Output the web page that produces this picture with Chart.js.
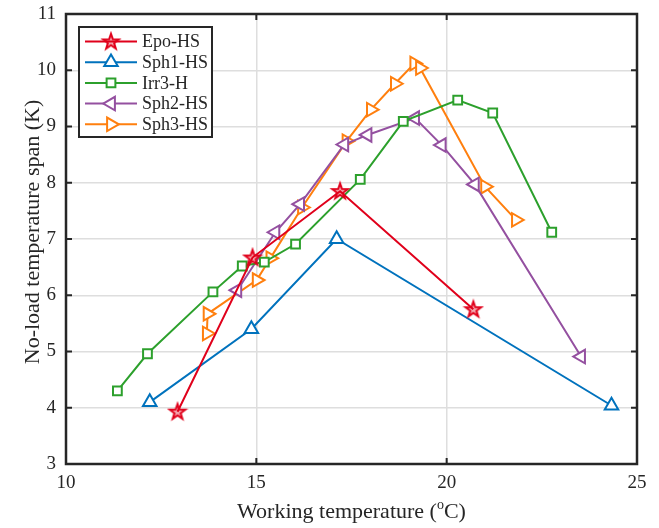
<!DOCTYPE html>
<html>
<head>
<meta charset="utf-8">
<script src="https://cdn.jsdelivr.net/npm/chart.js@4.4.1/dist/chart.umd.min.js"></script>
<style>
  html, body { margin: 0; padding: 0; background: #fff; }
  #wrap { width: 659px; height: 528px; }
</style>
</head>
<body>
<div id="wrap"><canvas id="spanChart" width="659" height="528"></canvas></div>
<script>
// values
const seriesNames = ['Epo-HS', 'Sph1-HS', 'Irr3-H', 'Sph2-HS', 'Sph3-HS'];

const epoX = [12.93, 14.9, 17.2, 20.7];
const epoY = [3.93, 6.67, 7.85, 5.75];

const sph1X = [12.2, 14.87, 17.11, 24.33];
const sph1Y = [4.1, 5.4, 7.0, 4.04];

const irr3X = [11.35, 12.14, 13.86, 14.63, 15.21, 16.03, 17.73, 18.86, 20.29, 21.21, 22.76];
const irr3Y = [4.30, 4.96, 6.06, 6.52, 6.59, 6.91, 8.06, 9.09, 9.47, 9.24, 7.12];

const sph2X = [14.5, 15.5, 16.15, 17.31, 17.92, 19.17, 19.87, 20.74, 23.53];
const sph2Y = [6.09, 7.12, 7.62, 8.68, 8.85, 9.15, 8.67, 7.97, 4.91];

const sph3X = [13.7, 13.72, 15.01, 15.37, 16.2, 17.37, 18.01, 18.64, 19.15, 19.3, 21.01, 21.82];
const sph3Y = [5.32, 5.67, 6.27, 6.66, 7.56, 8.74, 9.30, 9.76, 10.12, 10.04, 7.93, 7.34];

const xTicks = [10, 15, 20, 25];
const yTicks = [3, 4, 5, 6, 7, 8, 9, 10, 11];

const colors = ['#e0001b', '#0072bd', '#2ca02c', '#9450a0', '#ff7f0e'];
const serif = '"Liberation Serif", "Times New Roman", serif';
const axisColor = '#262626';

function pairs(xs, ys) {
    return xs.map((x, i) => ({x, y: ys[i]}));
}

// five point star marker (matlab pentagram)
function makeStar(color) {
    const c = document.createElement('canvas');
    c.width = 22; c.height = 22;
    const g = c.getContext('2d');
    const R = 8.2, r = R * 0.4;
    g.beginPath();
    for (let i = 0; i < 10; i++) {
        const rad = i % 2 === 0 ? R : r;
        const a = -Math.PI / 2 + i * Math.PI / 5;
        const px = 11 + rad * Math.cos(a), py = 11.5 + rad * Math.sin(a);
        if (i === 0) g.moveTo(px, py); else g.lineTo(px, py);
    }
    g.closePath();
    g.fillStyle = 'rgba(224,0,27,0.35)';
    g.fill();
    g.lineWidth = 2;
    g.strokeStyle = color;
    g.lineJoin = 'miter';
    g.stroke();
    return c;
}

const markers = [
    {pointStyle: makeStar(colors[0]), radius: 8, rotation: 0},
    {pointStyle: 'triangle', radius: 7.8, rotation: 0},
    {pointStyle: 'rect', radius: 6.2, rotation: 0},
    {pointStyle: 'triangle', radius: 7.8, rotation: -90},
    {pointStyle: 'triangle', radius: 7.8, rotation: 90}
];

const allData = [pairs(epoX, epoY), pairs(sph1X, sph1Y), pairs(irr3X, irr3Y), pairs(sph2X, sph2Y), pairs(sph3X, sph3Y)];

const datasets = seriesNames.map((name, i) => ({
    label: name,
    data: allData[i],
    borderColor: colors[i],
    backgroundColor: '#ffffff',
    borderWidth: 2,
    pointStyle: markers[i].pointStyle,
    pointRadius: markers[i].radius,
    pointRotation: markers[i].rotation,
    pointBorderWidth: 2,
    pointBorderColor: colors[i],
    pointBackgroundColor: '#ffffff',
    showLine: true,
    tension: 0
}));

// frame, inward ticks, axis titles and the boxed legend
const decorPlugin = {
    id: 'decor',
    afterDraw(chart) {
        const ctx = chart.ctx;
        const a = chart.chartArea;
        const xs = chart.scales.x, ys = chart.scales.y;
        ctx.save();
        ctx.strokeStyle = axisColor;
        ctx.lineWidth = 2;
        ctx.beginPath();
        xTicks.forEach(v => {
            const px = xs.getPixelForValue(v);
            ctx.moveTo(px, a.bottom); ctx.lineTo(px, a.bottom - 6);
            ctx.moveTo(px, a.top); ctx.lineTo(px, a.top + 6);
        });
        yTicks.forEach(v => {
            const py = ys.getPixelForValue(v);
            ctx.moveTo(a.left, py); ctx.lineTo(a.left + 6, py);
            ctx.moveTo(a.right, py); ctx.lineTo(a.right - 6, py);
        });
        ctx.stroke();
        ctx.lineWidth = 2.5;
        ctx.strokeRect(a.left, a.top, a.right - a.left, a.bottom - a.top);

        // x title with superscript o
        ctx.fillStyle = axisColor;
        ctx.textBaseline = 'alphabetic';
        const big = '22px ' + serif, small = '14px ' + serif;
        const t1 = 'Working temperature (', t2 = 'o', t3 = 'C)';
        ctx.font = big;
        const w1 = ctx.measureText(t1).width, w3 = ctx.measureText(t3).width;
        ctx.font = small;
        const w2 = ctx.measureText(t2).width;
        let sx = (a.left + a.right) / 2 - (w1 + w2 + w3) / 2;
        const by = 518;
        ctx.font = big; ctx.textAlign = 'left';
        ctx.fillText(t1, sx, by);
        ctx.font = small;
        ctx.fillText(t2, sx + w1, by - 9);
        ctx.font = big;
        ctx.fillText(t3, sx + w1 + w2, by);

        // y title
        ctx.save();
        ctx.translate(33, 232);
        ctx.rotate(-Math.PI / 2);
        ctx.textAlign = 'center';
        ctx.textBaseline = 'middle';
        ctx.font = big;
        ctx.fillText('No-load temperature span (K)', 0, 0);
        ctx.restore();

        // legend
        const lx = 79, ly = 27, lw = 133, lh = 110;
        ctx.fillStyle = '#ffffff';
        ctx.fillRect(lx, ly, lw, lh);
        ctx.lineWidth = 2;
        ctx.strokeStyle = axisColor;
        ctx.strokeRect(lx, ly, lw, lh);
        chart.data.datasets.forEach((ds, i) => {
            const ey = ly + 14.5 + i * 20.7;
            ctx.strokeStyle = ds.borderColor;
            ctx.lineWidth = 2;
            ctx.beginPath();
            ctx.moveTo(85, ey); ctx.lineTo(137, ey);
            ctx.stroke();
            ctx.fillStyle = '#ffffff';
            ctx.lineWidth = 2;
            Chart.helpers.drawPoint(ctx, {
                pointStyle: ds.pointStyle,
                radius: ds.pointRadius,
                rotation: ds.pointRotation,
                borderWidth: 2
            }, 111, ey);
            ctx.fillStyle = axisColor;
            ctx.font = '18px ' + serif;
            ctx.textAlign = 'left';
            ctx.textBaseline = 'middle';
            ctx.fillText(ds.label, 142, ey + 1);
        });
        ctx.restore();
    }
};

const ctx = document.getElementById('spanChart').getContext('2d');
new Chart(ctx, {
    type: 'scatter',
    data: {datasets},
    options: {
        responsive: false,
        animation: false,
        layout: {padding: {top: 14, right: 22, left: 0, bottom: 0}},
        plugins: {
            legend: {display: false},
            tooltip: {enabled: false}
        },
        scales: {
            x: {
                type: 'linear',
                min: 10,
                max: 25,
                afterFit(scale) {
                    scale.height = 64;
                    scale.paddingLeft = 0;
                    scale.paddingRight = 0;
                },
                afterBuildTicks(scale) { scale.ticks = xTicks.map(v => ({value: v})); },
                ticks: {color: axisColor, font: {family: serif, size: 19}, padding: 8},
                grid: {color: '#dedede', lineWidth: 1.5, drawTicks: false},
                border: {display: false}
            },
            y: {
                min: 3,
                max: 11,
                afterFit(scale) {
                    scale.width = 66;
                    scale.paddingTop = 0;
                    scale.paddingBottom = 0;
                },
                afterBuildTicks(scale) { scale.ticks = yTicks.map(v => ({value: v})); },
                ticks: {color: axisColor, font: {family: serif, size: 19}, padding: 10},
                grid: {color: '#dedede', lineWidth: 1.5, drawTicks: false},
                border: {display: false}
            }
        }
    },
    plugins: [decorPlugin]
});
</script>
</body>
</html>
